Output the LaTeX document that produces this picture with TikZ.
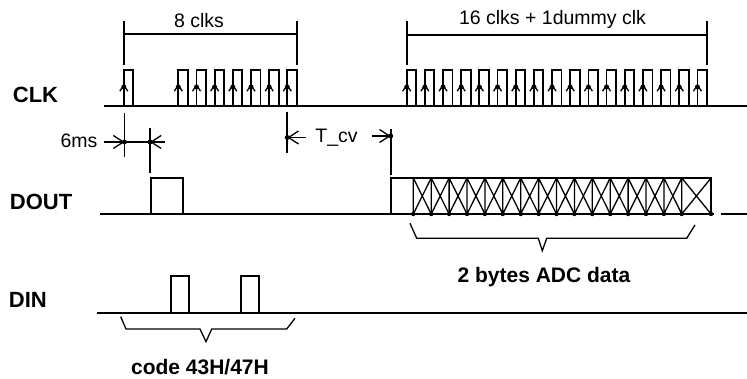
\documentclass[tikz,border=0pt]{standalone}
\usepackage{fontspec}
\setmainfont{Liberation Sans}
\usetikzlibrary{arrows.meta}

\begin{document}
\begin{tikzpicture}[x=1pt, y=-1pt, line width=1.8pt,
        lbl/.style={font=\bfseries\fontsize{22}{22}\selectfont, inner sep=0pt, anchor=west},
        txt/.style={font=\fontsize{19.5}{20}\selectfont, inner sep=0pt, anchor=base},
        btxt/.style={font=\bfseries\fontsize{21}{21}\selectfont, inner sep=0pt, anchor=base},
        up/.style={-{Straight Barb[length=6pt,width=8pt,line width=1.3pt]}},
        dim/.style={-{Straight Barb[length=10pt,width=13pt,line width=1.3pt]}},
        thin line/.style={line width=1.3pt}]
        \useasboundingbox (0,0) rectangle (747,379);

        % signal names
        \node[lbl] (clk) at (12,94.5) {CLK};
        \node[lbl] (dout) at (9,202) {DOUT};
        \node[lbl] (din) at (8,300) {DIN};

        % CLK
        \draw (104,106) -- (747,106);
        \foreach \x in {123.8,178.3,196.5,214.6,232.8,251,269.2,287.3} {
            \draw (\x,106) |- ({\x+9.5},70) -- ({\x+9.5},106);
            \draw[up] (\x,106) -- (\x,84);
            \fill (\x,87) circle (2.5pt);
        }
        \foreach \k [evaluate=\k as \x using 406.7+18.17*\k] in {0,...,16} {
            \draw (\x,106) |- ({\x+9.5},70) -- ({\x+9.5},106);
            \draw[up] (\x,106) -- (\x,84);
            \fill (\x,87) circle (2.5pt);
        }

        % clock counts
        \draw (123.8,21) -- (123.8,65) (296.8,21) -- (296.8,65) (123.8,34) -- (296.8,34);
        \node[txt] (eight) at (199,28) {8 clks};
        \draw (406.7,21) -- (406.7,65) (706.9,21) -- (706.9,65) (406.7,35) -- (706.9,35);
        \node[txt] (sixteen) at (552.5,24.5) {16 clks + 1dummy clk};

        % 6ms
        \draw (124.5,113) -- (124.5,157);
        \draw (150,128) -- (150,173);
        \draw[dim] (104,142) -- (124.5,142);
        \draw[dim] (165,142) -- (150,142);
        \draw (124.5,142) -- (150,142);
        \fill (124.5,142) circle (2.5pt) (150,142) circle (2.5pt);
        \node[txt] (ms) at (79,148) {6ms};

        % T_cv
        \draw (287.3,112) -- (287.3,153);
        \draw[dim] (306,137.5) -- (287.3,137.5);
        \fill (287.3,137.5) circle (2.5pt);
        \node[txt] (tcv) at (336.5,142.7) {T\_cv};
        \draw[dim] (372,136) -- (390.7,136);
        \fill (390.7,136) circle (2.5pt);
        \draw (390.7,129) -- (390.7,175);

        % DOUT
        \draw (100,214) -- (714,214) (721,214) -- (747,214);
        \draw (151,214) |- (182.7,178) -- (182.7,214);
        \draw (390.7,214) |- (711,178) -- (711,214);
        \foreach \k [evaluate=\k as \x using 413.3+17.9*\k,
                     evaluate=\k as \xb using 413.3+17.9*(\k+1)] in {0,...,14} {
            \draw[thin line] (\x,178) -- (\x,214) (\x,178) -- (\xb,214) (\x,214) -- (\xb,178);
            \fill (\x,214) circle (2.2pt);
        }
        \draw[thin line] (681.8,178) -- (681.8,214) (681.8,178) -- (711,214) (681.8,214) -- (711,178);
        \fill (681.8,214) circle (2.2pt) (711,214) circle (2.2pt);

        % DIN
        \draw (97,312.7) -- (747,312.7);
        \draw (170.7,312.7) |- (189.3,276) -- (189.3,312.7);
        \draw (240.7,312.7) |- (259.3,276) -- (259.3,312.7);

        % braces
        \draw[thin line] (410,223.3) -- (416.7,238.3) -- (538.3,238.3) -- (542.3,250.7)
            -- (546.7,238.3) -- (686.7,238.3) -- (695,225);
        \node[btxt] (adc) at (544,282.7) {2 bytes ADC data};
        \draw[thin line] (120.7,316.7) -- (126,329) -- (200,329) -- (206,341.7)
            -- (211.7,329) -- (286.7,329) -- (295,318.3);
        \node[btxt] (code) at (200,374.3) {code 43H/47H};
    \end{tikzpicture}
\end{document}
